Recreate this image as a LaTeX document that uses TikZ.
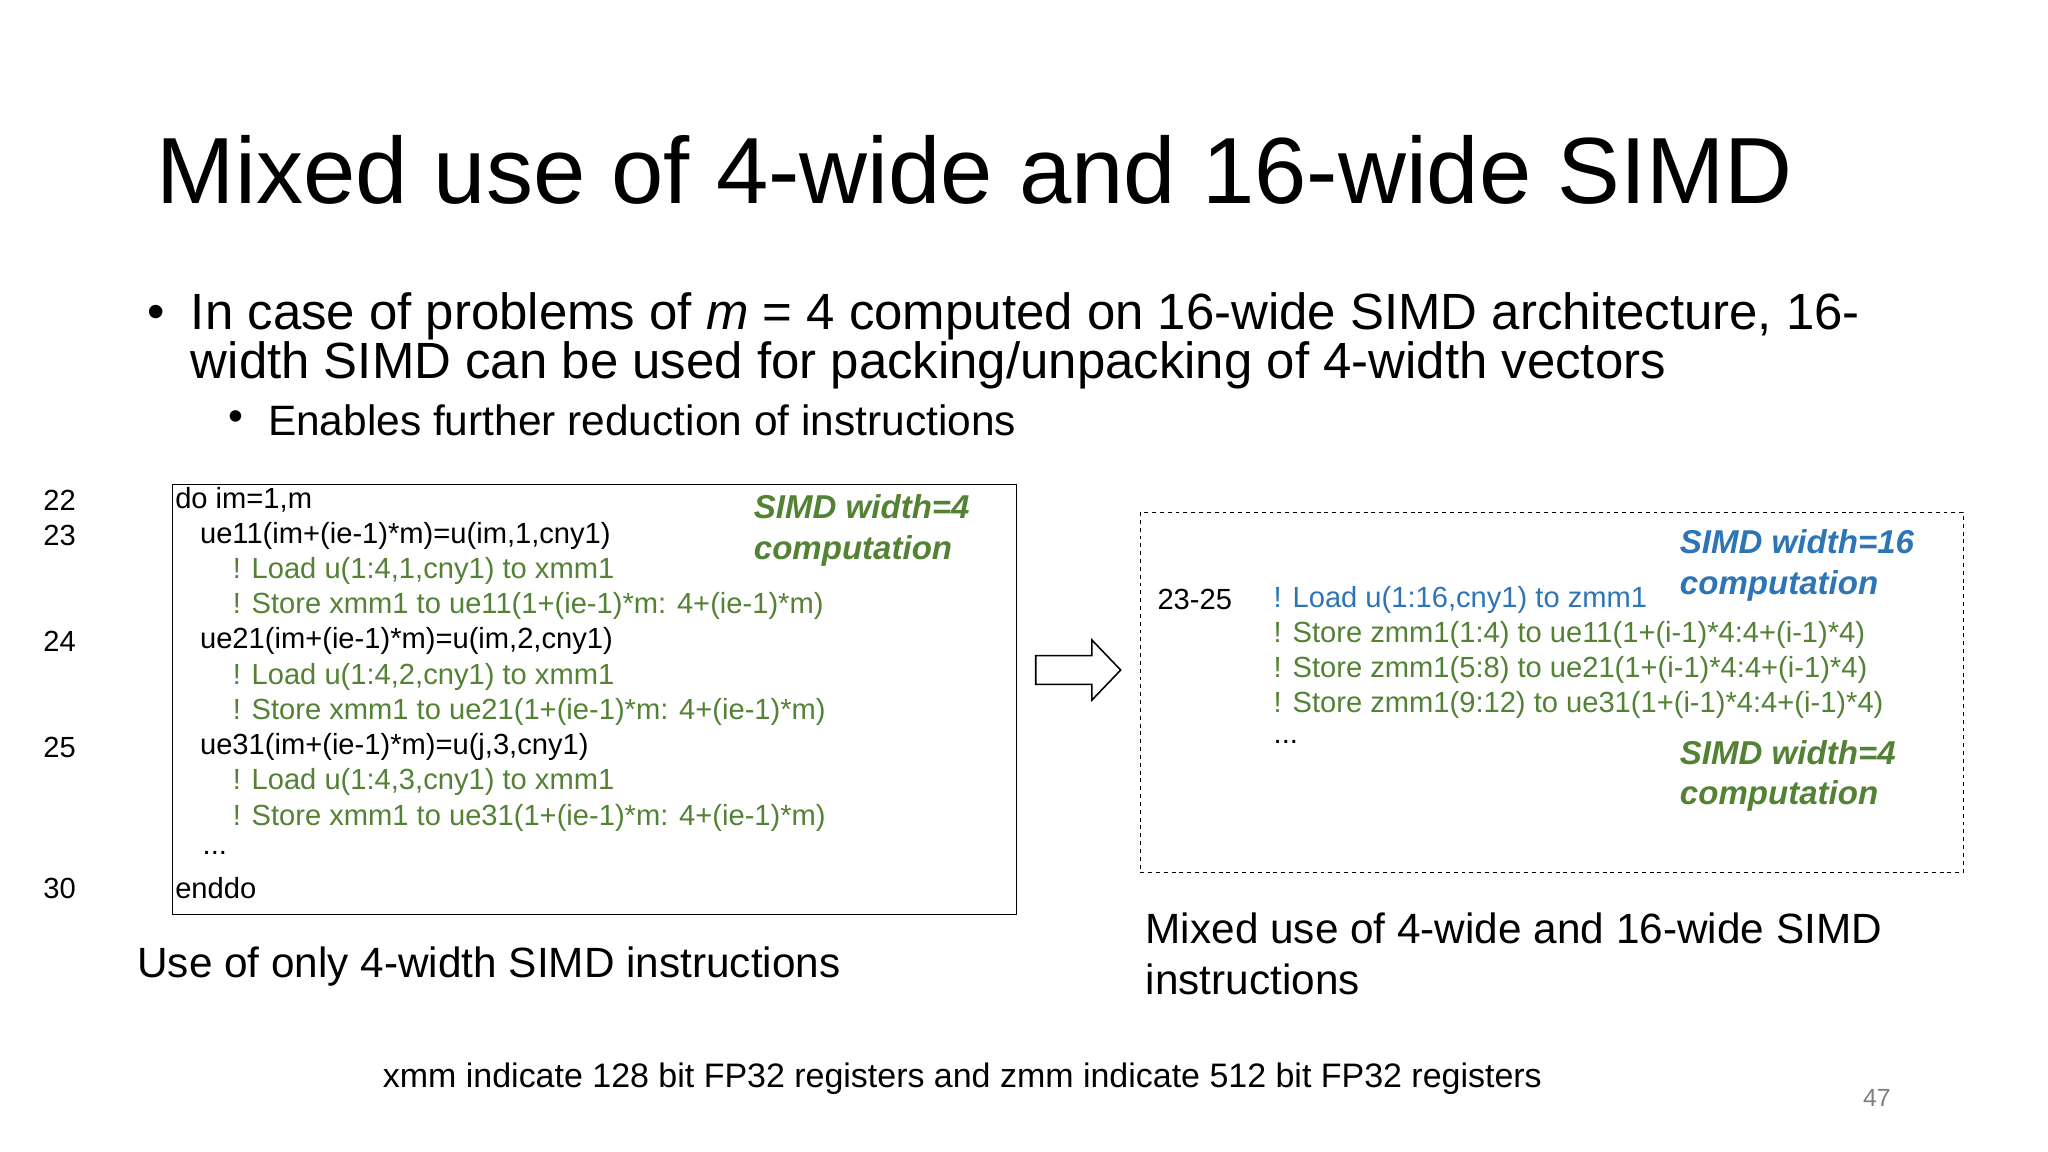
\documentclass[tikz,border=0pt]{standalone}
\usepackage{fontspec}
\setmainfont{Liberation Sans}
\definecolor{cg}{HTML}{548235}
\definecolor{cb}{HTML}{2E75B6}
\begin{document}
\begin{tikzpicture}[x=1pt,y=-1pt,
  t/.style={anchor=west,inner sep=0pt},
  code/.style={t,font=\fontsize{22.3}{25}\selectfont},
  gc/.style={code,text=cg},
  bc/.style={code,text=cb},
  lab/.style={t,font=\fontsize{25.3}{31}\selectfont\bfseries\itshape,align=left}]
\useasboundingbox[fill=white] (0,0) rectangle (1568,882);
\node[t,font=\fontsize{72}{80}\selectfont] (title) at (120,130) {Mixed use of 4-wide and 16-wide SIMD};
\node[t,font=\fontsize{38}{38}\selectfont] (b1) at (113,243) {•};
\node[t,font=\fontsize{39}{38}\selectfont,align=left] (b1t) at (146,261) {In case of problems of \textit{m} = 4 computed on 16-wide SIMD architecture, 16-\\width SIMD can be used for packing/unpacking of 4-width vectors};
\node[t,font=\fontsize{32.5}{34}\selectfont] (b2) at (175,322) {•};
\node[t,font=\fontsize{32.5}{34}\selectfont] (b2t) at (205,322) {Enables further reduction of instructions};
\draw[line width=0.8pt] (132,371) rectangle (778,700);
\foreach \n/\y in {22/383,23/410,24/491,25/572,30/680} \node[code] (n\n) at (33,\y) {\n};
\node[code] (l1) at (134,383) {do im=1,m};
\node[code] (l2) at (153,410) {ue11(im+(ie-1)*m)=u(im,1,cny1)};
\node[gc] (l3) at (178,437) {! Load u(1:4,1,cny1) to xmm1};
\node[gc] (l4) at (178,464) {! Store xmm1 to ue11(1+(ie-1)*m: 4+(ie-1)*m)};
\node[code] (l5) at (153,491) {ue21(im+(ie-1)*m)=u(im,2,cny1)};
\node[gc] (l6) at (178,518) {! Load u(1:4,2,cny1) to xmm1};
\node[gc] (l7) at (178,545) {! Store xmm1 to ue21(1+(ie-1)*m: 4+(ie-1)*m)};
\node[code] (l8) at (153,572) {ue31(im+(ie-1)*m)=u(j,3,cny1)};
\node[gc] (l9) at (178,599) {! Load u(1:4,3,cny1) to xmm1};
\node[gc] (l10) at (178,626) {! Store xmm1 to ue31(1+(ie-1)*m: 4+(ie-1)*m)};
\node[code] (l11) at (155,653) {...};
\node[code] (l12) at (134,680) {enddo};
\node[lab,text=cg] (g1) at (577,406) {SIMD width=4\\computation};
\draw[line width=1.2pt,line join=miter] (793,502) -- (836,502) -- (836,490) -- (858,513) -- (836,536) -- (836,524) -- (793,524) -- cycle;
\draw[dashed,line width=0.7pt] (873,392) rectangle (1503,668);
\node[code] (r0) at (886,459) {23-25};
\node[bc] (r1) at (975,459) {! Load u(1:16,cny1) to zmm1};
\node[gc] (r2) at (975,486) {! Store zmm1(1:4) to ue11(1+(i-1)*4:4+(i-1)*4)};
\node[gc] (r3) at (975,513) {! Store zmm1(5:8) to ue21(1+(i-1)*4:4+(i-1)*4)};
\node[gc] (r4) at (975,540) {! Store zmm1(9:12) to ue31(1+(i-1)*4:4+(i-1)*4)};
\node[code] (r5) at (975,568) {...};
\node[lab,text=cb] (bl) at (1286,433) {SIMD width=16\\computation};
\node[lab,text=cg] (g2) at (1286,594) {SIMD width=4\\computation};
\node[t,font=\fontsize{32.4}{39}\selectfont] (c1) at (105,740) {Use of only 4-width SIMD instructions};
\node[t,font=\fontsize{32.4}{39}\selectfont,align=left] (c2) at (877,730) {Mixed use of 4-wide and 16-wide SIMD\\instructions};
\node[t,font=\fontsize{26}{28}\selectfont] (foot) at (293,826) {xmm indicate 128 bit FP32 registers and zmm indicate 512 bit FP32 registers};
\node[inner sep=0pt,font=\fontsize{19}{22}\selectfont,text=gray] (pg) at (1437,841) {47};
\end{tikzpicture}
\end{document}
